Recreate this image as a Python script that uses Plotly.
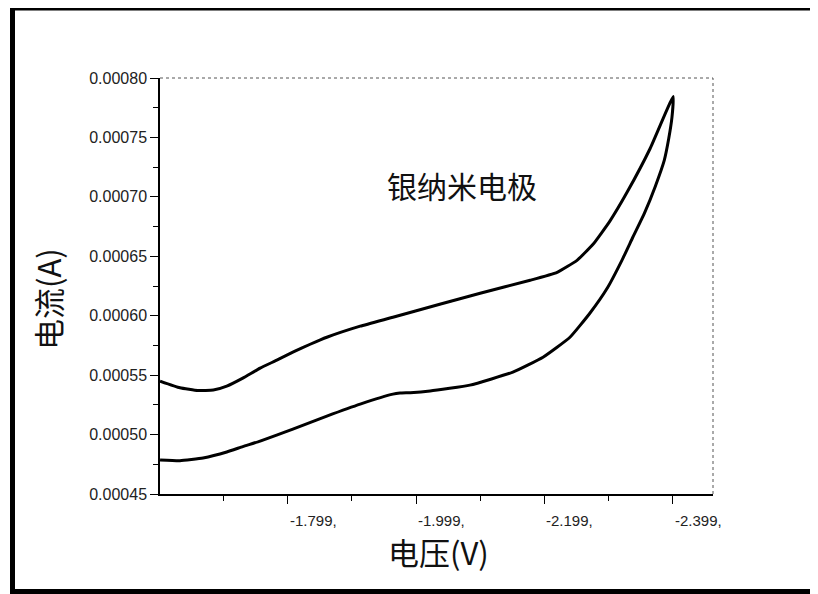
import plotly.graph_objects as go

# Forward scan (upper branch), V and A
fwd_v = [-1.600, -1.631, -1.659, -1.683, -1.704, -1.729, -1.756, -1.782, -1.807, -1.834,
         -1.860, -1.912, -1.963, -2.036, -2.099, -2.177, -2.219, -2.250, -2.275, -2.301,
         -2.328, -2.364, -2.400]
fwd_i = [0.0005450, 0.0005394, 0.0005370, 0.0005375, 0.0005408, 0.0005475, 0.0005559,
         0.0005626, 0.0005693, 0.0005760, 0.0005819, 0.0005912, 0.0005987, 0.0006097,
         0.0006189, 0.0006298, 0.0006365, 0.0006466, 0.0006601, 0.0006794, 0.0007038,
         0.0007407, 0.0007844]
# Return scan (lower branch)
rev_v = [-2.400, -2.398, -2.393, -2.386, -2.372, -2.355, -2.337, -2.320, -2.297, -2.270,
         -2.239, -2.197, -2.150, -2.083, -2.021, -1.990, -1.974, -1.963, -1.912, -1.860,
         -1.807, -1.756, -1.729, -1.704, -1.667, -1.631, -1.600]
rev_i = [0.0007844, 0.0007668, 0.0007491, 0.0007307, 0.0007088, 0.0006861, 0.0006660,
         0.0006466, 0.0006231, 0.0006021, 0.0005819, 0.0005651, 0.0005525, 0.0005416,
         0.0005366, 0.0005352, 0.0005349, 0.0005340, 0.0005256, 0.0005155, 0.0005046,
         0.0004945, 0.0004899, 0.0004853, 0.0004803, 0.0004780, 0.0004786]

x_major = [-1.599, -1.799, -1.999, -2.199, -2.399]
x_labels = ["", "-1.799,", "-1.999,", "-2.199,", "-2.399,"]
x_minor = [-1.699, -1.899, -2.099, -2.299]
y_major = [0.00045, 0.00050, 0.00055, 0.00060, 0.00065, 0.00070, 0.00075, 0.00080]

fig = go.Figure()
fig.add_trace(go.Scatter(x=fwd_v + rev_v[1:], y=fwd_i + rev_i[1:], mode="lines",
                         line=dict(color="black", width=3, shape="spline", smoothing=0.4),
                         showlegend=False, hoverinfo="skip"))

num_font = dict(family="Liberation Sans, Arial, sans-serif", size=16, color="#222")
xnum_font = dict(family="Liberation Sans, Arial, sans-serif", size=15, color="#222")
cjk = "Noto Sans CJK SC, sans-serif"

# the page body adds an 8px offset; figure is sized so it fills the window
OFF = 8
FW, FH = 818 - OFF, 594 - OFF
L, T, R, B = 160 - OFF, 78 - OFF, 713 - OFF, 494 - OFF
W, H = R - L, B - T

fig.update_layout(
    width=FW, height=FH,
    margin=dict(l=L, r=FW - R, t=T, b=FH - B, pad=0),
    paper_bgcolor="white", plot_bgcolor="white",
    showlegend=False,
    xaxis=dict(range=[-1.5999, -2.462], showgrid=False, zeroline=False,
               showline=True, linecolor="black", linewidth=1.5,
               ticks="outside", ticklen=8, tickwidth=1, tickcolor="black",
               tickvals=x_major, ticktext=[""] * len(x_major),
               minor=dict(tickvals=x_minor, ticks="outside", ticklen=5,
                          tickcolor="black", tickwidth=1)),
    yaxis=dict(range=[0.00045, 0.00080], showgrid=False, zeroline=False,
               showline=True, linecolor="black", linewidth=1.5,
               ticks="outside", ticklen=8, tickwidth=1, tickcolor="black",
               tickvals=y_major, tickformat=".5f", tickfont=num_font,
               minor=dict(dtick=0.000025, ticks="outside", ticklen=5,
                          tickcolor="black", tickwidth=1)),
)

def px(x):
    return (x - OFF - L) / W
def py(y):
    return (B - (y - OFF)) / H

# x tick labels, left-aligned at the tick as in the original
for v, t in zip(x_major, x_labels):
    if t:
        fig.add_annotation(x=v, y=py(520), xref="x", yref="paper", text=t, showarrow=False,
                           xanchor="left", yanchor="middle", font=xnum_font)

# axis titles
fig.add_annotation(x=px(438), y=py(551), xref="paper", yref="paper", text="电压(V)",
                   showarrow=False, xanchor="center", yanchor="middle",
                   font=dict(family=cjk, size=31, color="#111"))
fig.add_annotation(x=px(47), y=py(299), xref="paper", yref="paper", text="电流(A)",
                   showarrow=False, xanchor="center", yanchor="middle", textangle=-90,
                   font=dict(family=cjk, size=31, color="#111"))

fig.add_annotation(x=px(462), y=py(185), xref="paper", yref="paper", text="银纳米电极",
                   showarrow=False, xanchor="center", yanchor="middle",
                   font=dict(family=cjk, size=30, color="#111"))

# dotted top and right frame of the plot area
fig.add_shape(type="line", xref="paper", yref="paper", x0=0, y0=1, x1=1, y1=1,
              line=dict(color="#555", width=1, dash="dot"))
fig.add_shape(type="line", xref="paper", yref="paper", x0=1, y0=0, x1=1, y1=1,
              line=dict(color="#555", width=1, dash="dot"))

# thick outer frame of the picture
fig.add_shape(type="line", xref="paper", yref="paper", x0=px(10), y0=py(9), x1=px(818), y1=py(9),
              line=dict(color="black", width=3))
fig.add_shape(type="line", xref="paper", yref="paper", x0=px(12.5), y0=py(5), x1=px(12.5), y1=py(594),
              line=dict(color="black", width=5))
fig.add_shape(type="line", xref="paper", yref="paper", x0=px(10), y0=py(591.5), x1=px(818), y1=py(591.5),
              line=dict(color="black", width=5))
fig.add_shape(type="line", xref="paper", yref="paper", x0=px(815.5), y0=py(5), x1=px(815.5), y1=py(594),
              line=dict(color="black", width=5))

fig.write_html("out.html")
